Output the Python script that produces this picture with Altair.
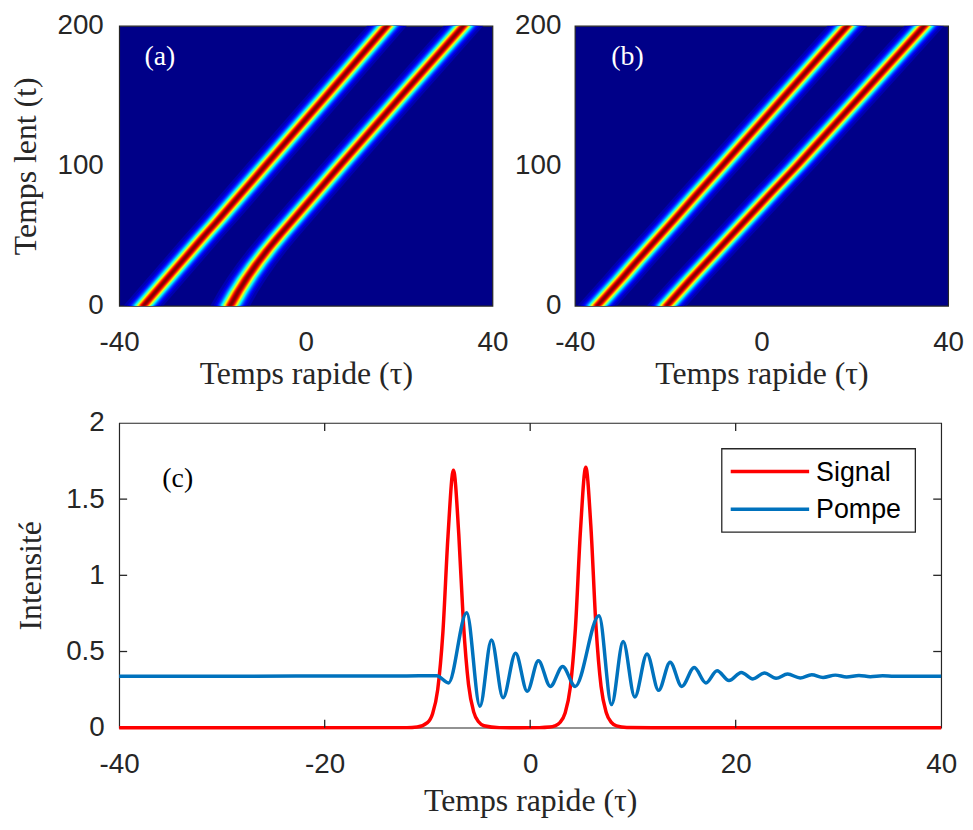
import math
import numpy as np
import pandas as pd
import altair as alt

# ---------------- data ----------------
# (a) and (b): centre of the two bright stripes (tau) at several slow times t
TRACK_T = [0, 10, 20, 30, 40, 50, 60, 80, 100, 150, 200]
A_STRIPE1 = [-34.8, -32.2, -29.6, -27.0, -24.4, -21.8, -19.1, -13.9, -8.7, 4.4, 17.4]
A_STRIPE2 = [-16.2, -14.5, -12.6, -10.5, -8.2, -5.7, -3.1, 2.1, 7.3, 20.5, 33.8]
B_STRIPE1 = [-35.2, -32.5, -29.8, -27.2, -24.5, -21.8, -19.1, -13.8, -8.4, 5.0, 18.4]
B_STRIPE2 = [-20.3, -17.6, -14.9, -12.1, -9.3, -6.5, -3.7, 1.9, 7.6, 21.3, 34.9]
STRIPE_WIDTH = 1.75  # sech^2 width of a stripe, in tau units

# (c): intensity profiles
SIGNAL_TAU = [-40, -12.0, -11.0, -10.0, -9.5, -9.0, -8.5, -8.0, -7.47, -6.95, -6.5, -6.0,
              -5.5, -5.0, -4.5, -3.0, -1.0, 0.9, 1.9, 2.4, 2.9, 3.4, 3.9, 4.4, 4.9, 5.41,
              5.9, 6.4, 6.9, 7.4, 7.9, 8.4, 9.4, 12.0, 40]
SIGNAL_VAL = [0.0, 0.0005, 0.004, 0.033, 0.092, 0.25, 0.62, 1.256, 1.69, 1.27, 0.69, 0.284,
              0.104, 0.037, 0.013, 0.0006, 0.0, 0.0005, 0.004, 0.012, 0.034, 0.096, 0.263,
              0.65, 1.30, 1.71, 1.33, 0.67, 0.27, 0.10, 0.035, 0.012, 0.0015, 0.0, 0.0]
POMPE_TAU = [-40, -30, -20, -12, -9.1, -7.95, -6.18, -4.89, -3.77, -2.64, -1.42, -0.29, 0.80,
             1.96, 3.16, 4.38, 6.70, 7.92, 9.05, 10.18, 11.37, 12.50, 13.62, 14.75, 15.97,
             17.10, 18.19, 19.35, 20.55, 21.67, 22.80, 23.93, 25.05, 26.28, 27.40, 28.50,
             29.70, 30.80, 32.0, 33.1, 34.3, 35.4, 40]
POMPE_VAL = [0.338, 0.338, 0.339, 0.340, 0.341, 0.294, 0.755, 0.141, 0.576, 0.196, 0.489,
             0.239, 0.439, 0.271, 0.402, 0.271, 0.735, 0.152, 0.565, 0.202, 0.483, 0.245,
             0.430, 0.271, 0.395, 0.294, 0.374, 0.310, 0.363, 0.320, 0.359, 0.324, 0.352,
             0.326, 0.348, 0.330, 0.345, 0.333, 0.343, 0.335, 0.341, 0.337, 0.338]
SERIES = ["Signal", "Pompe"]
SERIES_COLORS = ["#FF0000", "#0072BD"]

X_TICKS_TOP = [-40, 0, 40]
Y_TICKS_TOP = [0, 100, 200]
X_TICKS_C = [-40, -20, 0, 20, 40]
Y_TICKS_C = [0, 0.5, 1, 1.5, 2]
X_INNER_TICKS_C = [-20, 0, 20]
Y_INNER_TICKS_C = [0.5, 1, 1.5]
PANEL_LABELS = ["(a)", "(b)", "(c)"]

# ---------------- styling ----------------
SANS = "Liberation Sans"
SERIF = "Liberation Serif"
INK = "#262626"
BG_JET = "#000088"
TW, TH = 376, 282
CW, CH = 828, 307


def jet(v):
    r = min(max(1.5 - abs(4 * v - 3), 0), 1)
    g = min(max(1.5 - abs(4 * v - 2), 0), 1)
    b = min(max(1.5 - abs(4 * v - 1), 0), 1)
    return "#%02x%02x%02x" % (round(r * 255), round(g * 255), round(b * 255))


LEVELS = list(np.linspace(0.03, 0.985, 30))


def axis_x(title, values, tpad):
    return alt.Axis(values=values, labelExpr="'' + datum.value", labelFont=SANS,
                    labelFontSize=28, labelColor=INK, labelPadding=23, labelFlush=False,
                    labelOverlap=False, ticks=False, tickSize=0, domain=False, grid=False,
                    title=title, titleFont=SERIF, titleFontSize=32,
                    titleFontWeight="normal", titleColor=INK, titlePadding=tpad)


def axis_y(title, values, pad, tpad):
    kw = dict(values=values, labelExpr="'' + datum.value", labelFont=SANS,
              labelFontSize=28, labelColor=INK, labelPadding=pad, labelFlush=False,
              labelOverlap=False, ticks=False, tickSize=0, domain=False, grid=False,
              titleFont=SERIF, titleFontSize=32, titleFontWeight="normal",
              titleColor=INK, titlePadding=tpad)
    if title:
        kw["title"] = title
    return alt.Axis(**kw)


def heat_panel(s1, s2, label, y_title, label_x):
    rows = []
    for k, L in enumerate(LEVELS):
        h = STRIPE_WIDTH * math.acosh(1 / math.sqrt(L))
        for sname, track in (("s1", s1), ("s2", s2)):
            for t, c in zip(TRACK_T, track):
                rows.append(dict(level=k, stripe=sname, t=t, lo=c - h, hi=c + h))
    df = pd.DataFrame(rows)
    xenc = alt.X("lo:Q", scale=alt.Scale(domain=[-40, 40], nice=False, zero=False),
                 axis=axis_x("Temps rapide (τ)", X_TICKS_TOP, 2), stack=False)
    if y_title:
        yenc = alt.Y("t:Q", scale=alt.Scale(domain=[0, 200], nice=False, zero=False),
                     axis=axis_y(y_title, Y_TICKS_TOP, 16, 15))
    else:
        yenc = alt.Y("t:Q", scale=alt.Scale(domain=[0, 200], nice=False, zero=False),
                     axis=axis_y(None, Y_TICKS_TOP, 14, 5), title=None)
    layers = []
    for k, L in enumerate(LEVELS):
        nxt = LEVELS[k + 1] if k + 1 < len(LEVELS) else 1.0
        col = jet((L + nxt) / 2)
        sub = df[df.level == k].sort_values(["stripe", "t"])
        layers.append(
            alt.Chart(sub).mark_area(orient="horizontal", color=col, clip=True,
                                     strokeWidth=0, opacity=1)
            .encode(x=xenc, x2="hi:Q", y=yenc, detail="stripe:N")
        )
    lab = alt.Chart(pd.DataFrame({"lab": [label]})).mark_text(
        font=SERIF, fontSize=28, color="white", align="center", baseline="middle"
    ).encode(x=alt.value(label_x), y=alt.value(31), text="lab:N")
    layers.append(lab)
    return alt.layer(*layers).properties(
        width=TW, height=TH, view=alt.ViewBackground(fill=BG_JET, stroke=INK, strokeWidth=1.2)
    )


panel_a = heat_panel(A_STRIPE1, A_STRIPE2, PANEL_LABELS[0], "Temps lent (t)", 41)
panel_b = heat_panel(B_STRIPE1, B_STRIPE2, PANEL_LABELS[1], None, 53)

# ---------------- panel (c) ----------------
sig_df = pd.DataFrame({"tau": SIGNAL_TAU, "val": SIGNAL_VAL, "series": SERIES[0]})
pom_df = pd.DataFrame({"tau": POMPE_TAU, "val": POMPE_VAL, "series": SERIES[1]})

xc = alt.X("tau:Q", scale=alt.Scale(domain=[-40, 40], nice=False, zero=False),
           axis=axis_x("Temps rapide (τ)", X_TICKS_C, 7))
yc = alt.Y("val:Q", scale=alt.Scale(domain=[0, 2], nice=False, zero=False),
           axis=axis_y("Intensité", Y_TICKS_C, 15, 18))

sig_line = alt.Chart(sig_df).mark_line(color=SERIES_COLORS[0], strokeWidth=3.5,
                                       interpolate="monotone").encode(x=xc, y=yc)
pom_line = alt.Chart(pom_df).mark_line(color=SERIES_COLORS[1], strokeWidth=3.5,
                                       interpolate="monotone").encode(x=xc, y=yc)

xt = pd.DataFrame({"tau": X_INNER_TICKS_C})
yt = pd.DataFrame({"val": Y_INNER_TICKS_C})
tick_style = dict(color=INK, strokeWidth=1.3)
tick_bottom = alt.Chart(xt).mark_rule(**tick_style).encode(
    x=xc, y=alt.value(CH), y2=alt.value(CH - 8))
tick_top = alt.Chart(xt).mark_rule(**tick_style).encode(
    x=xc, y=alt.value(0), y2=alt.value(8))
tick_left = alt.Chart(yt).mark_rule(**tick_style).encode(
    y=yc, x=alt.value(0), x2=alt.value(8))
tick_right = alt.Chart(yt).mark_rule(**tick_style).encode(
    y=yc, x=alt.value(CW), x2=alt.value(CW - 8))

label_c = alt.Chart(pd.DataFrame({"lab": [PANEL_LABELS[2]]})).mark_text(
    font=SERIF, fontSize=28, color="black", align="center", baseline="middle"
).encode(x=alt.value(59), y=alt.value(57), text="lab:N")

# invisible spacer so the plot of (c) lines up under (a)
spacer = alt.Chart(pd.DataFrame({"k": [" "]})).mark_text(
    opacity=0, align="left", baseline="middle", fontSize=10
).encode(x=alt.value(-107), y=alt.value(150), text="k:N")

# legend (box + line samples + names)
leg_box = alt.Chart(pd.DataFrame({"k": ["box"]})).mark_rect(
    fill="white", stroke=INK, strokeWidth=1.3
).encode(x=alt.value(607), x2=alt.value(802), y=alt.value(26), y2=alt.value(110))
leg_layers = [leg_box]
for i, (name, colr) in enumerate(zip(SERIES, SERIES_COLORS)):
    ypix = 49 + 38 * i
    d = pd.DataFrame({"name": [name]})
    leg_layers.append(alt.Chart(d).mark_rule(color=colr, strokeWidth=3.5).encode(
        x=alt.value(616), x2=alt.value(695), y=alt.value(ypix)))
    leg_layers.append(alt.Chart(d).mark_text(
        font=SANS, fontSize=27, color="black", align="left", baseline="middle"
    ).encode(x=alt.value(702), y=alt.value(ypix + 1), text="name:N"))

panel_c = alt.layer(
    sig_line, pom_line, tick_bottom, tick_top, tick_left, tick_right, label_c, spacer,
    *leg_layers
).properties(width=CW, height=CH)

top = alt.hconcat(panel_a, panel_b, spacing=83, bounds="flush")
chart = alt.vconcat(top, panel_c, spacing=18).properties(
    padding={"left": 0, "top": 0, "right": 0, "bottom": 0}, background="white"
).configure_view(stroke=INK, strokeWidth=1.2)

chart.save("out.html", embed_options={"renderer": "svg", "actions": False})
